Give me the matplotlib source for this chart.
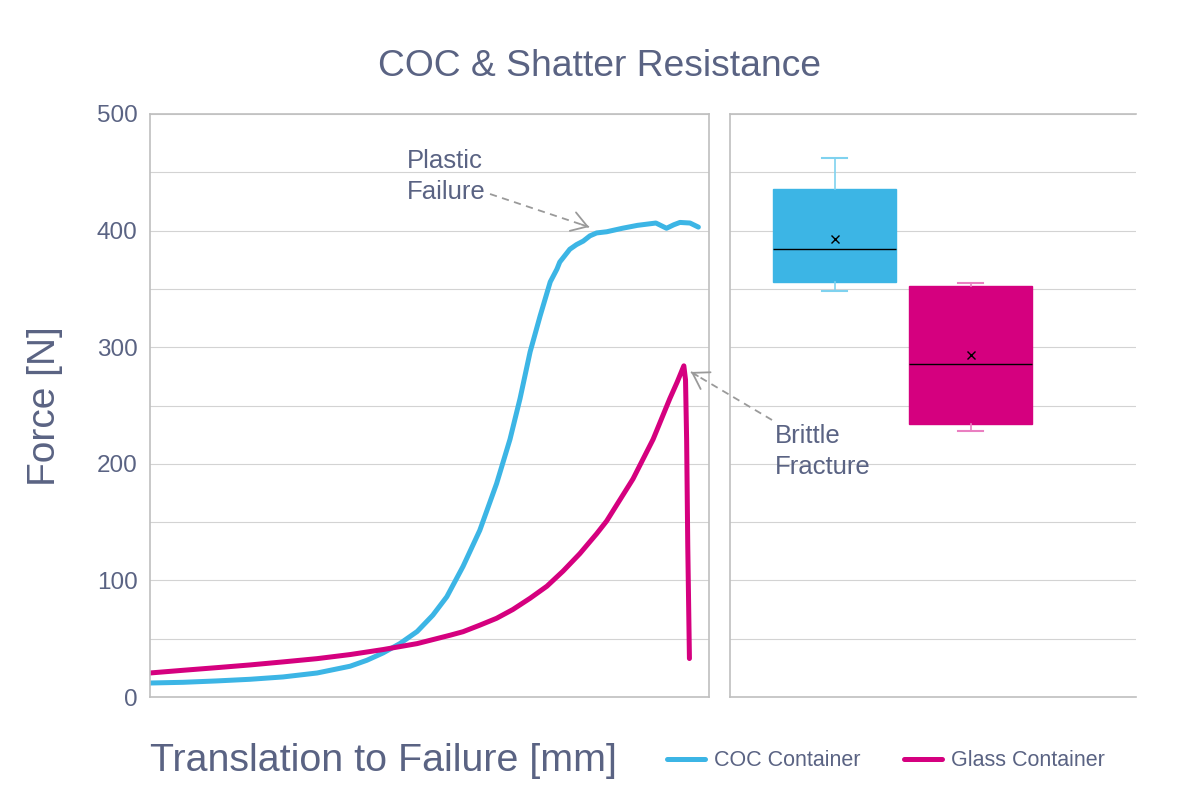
import matplotlib
matplotlib.use("Agg")
import matplotlib.pyplot as plt
from matplotlib.lines import Line2D
from matplotlib.patches import FancyArrowPatch

plt.rcParams['font.family'] = ['Liberation Sans', 'DejaVu Sans']

# curves (x in mm, arbitrary scale 0..10)
coc_x = [0.00, 0.59, 1.20, 1.79, 2.38, 2.99, 3.58, 3.88, 4.17, 4.47, 4.78, 5.06,
         5.31, 5.60, 5.90, 6.20, 6.44, 6.62, 6.80, 6.98, 7.16, 7.28, 7.33, 7.51,
         7.63, 7.75, 7.87, 7.99, 8.17, 8.45, 8.72, 9.05, 9.24, 9.37, 9.48, 9.66, 9.81]
coc_f = [12.0, 12.6, 13.8, 15.2, 17.2, 20.6, 26.4, 31.5, 37.8, 45.8, 56.2, 70.2,
         86, 112, 143, 183, 221, 256, 296, 327, 356, 367, 373, 384,
         388, 391, 395.5, 398, 399, 402, 404.5, 406.5, 402, 405, 407, 406.5, 403]

glass_x = [0.00, 0.59, 1.20, 1.79, 2.38, 2.99, 3.58, 4.17, 4.78, 5.37, 5.60, 5.90,
           6.20, 6.49, 6.80, 7.10, 7.39, 7.69, 7.99, 8.17, 8.64, 9.00, 9.30, 9.43,
           9.55, 9.58, 9.60, 9.62, 9.65]
glass_f = [20.6, 22.9, 25.2, 27.5, 30.1, 32.9, 36.4, 40.7, 45.8, 53.0, 56, 61.6,
           67.5, 75, 84.7, 95, 108, 123, 140, 151, 187, 221, 256, 270,
           284, 272, 220, 130, 33]

# box plot stats
box_names = ["COC Container", "Glass Container"]
box_whislo = [348.5, 228.4]
box_q1 = [355.6, 234]
box_med = [384, 285.6]
box_mean = [392.5, 293.6]
box_q3 = [436, 352.7]
box_whishi = [462, 355]

blue = '#3cb5e5'
pink = '#d5007f'
whisker_cols = ['#7fd2ef', '#ea7fc1']
txt = '#5a6383'
spine_col = '#bfbfbf'
grid_col = '#d3d3d3'
arrow_col = '#9a9a9a'

fig = plt.figure(figsize=(12, 8), dpi=100)
W, H = 1200, 800

def fx(px):
    return px / W

def fy(py):
    return 1 - py / H

ax1 = fig.add_axes([fx(150), fy(697), 559 / W, 583 / H])
ax2 = fig.add_axes([fx(730), fy(697), 406 / W, 583 / H])

for ax in (ax1, ax2):
    ax.set_ylim(0, 500)
    ax.set_yticks(range(0, 501, 50))
    ax.grid(axis='y', color=grid_col, lw=0.8)
    ax.set_axisbelow(True)
    ax.tick_params(length=0)
    ax.set_xticks([])
    for s in ax.spines.values():
        s.set_color(spine_col)
        s.set_linewidth(1.2)

ax1.set_yticks(range(0, 501, 100), [str(v) for v in range(0, 501, 100)])
ax1.set_yticks(range(50, 501, 100), minor=True)
ax1.grid(axis='y', which='minor', color=grid_col, lw=0.8)
ax1.tick_params(axis='y', which='both', length=0, pad=9, labelsize=17.5, labelcolor=txt)
ax2.set_yticklabels([])
ax2.spines['right'].set_visible(False)

ax1.set_xlim(0, 10)
l1, = ax1.plot(coc_x, coc_f, color=blue, lw=3.6, solid_capstyle='round',
               solid_joinstyle='round', label=box_names[0])
l2, = ax1.plot(glass_x, glass_f, color=pink, lw=3.6, solid_capstyle='round',
               solid_joinstyle='round', label=box_names[1])

# box plots
stats = []
for i in range(2):
    stats.append(dict(whislo=box_whislo[i], q1=box_q1[i], med=box_med[i],
                      mean=box_mean[i], q3=box_q3[i], whishi=box_whishi[i],
                      fliers=[], label=box_names[i]))
for i, col in enumerate([blue, pink]):
    ax2.bxp([stats[i]], positions=[i + 1], widths=0.902, capwidths=0.184,
            patch_artist=True, showmeans=True,
            boxprops=dict(facecolor=col, edgecolor=col, lw=1),
            whiskerprops=dict(color=whisker_cols[i], lw=1.2),
            capprops=dict(color=whisker_cols[i], lw=1.5),
            medianprops=dict(color='black', lw=1),
            meanprops=dict(marker='x', markeredgecolor='black', markersize=6,
                           markeredgewidth=1))
ax2.set_xlim(0.231, 3.214)
ax2.set_xticks([])

# title and labels
fig.text(0.5, fy(76), "COC & Shatter Resistance", ha='center', va='baseline',
         fontsize=26.8, color=txt)
fig.text(fx(150), fy(771), "Translation to Failure [mm]", ha='left', va='baseline',
         fontsize=28.4, color=txt)
fig.text(fx(45), fy(406), "Force [N]", ha='center', va='center', rotation=90,
         fontsize=28, color=txt)

# annotations
fig.text(fx(407), fy(168), "Plastic", ha='left', va='baseline', fontsize=18.5, color=txt)
fig.text(fx(407), fy(199), "Failure", ha='left', va='baseline', fontsize=18.5, color=txt)
fig.text(fx(775), fy(443), "Brittle", ha='left', va='baseline', fontsize=18.5, color=txt)
fig.text(fx(775), fy(474), "Fracture", ha='left', va='baseline', fontsize=18.5, color=txt)


def dashed_arrow(tail, head):
    # dashed shaft, solid open head
    fig.add_artist(Line2D([fx(tail[0]), fx(head[0])], [fy(tail[1]), fy(head[1])],
                          transform=fig.transFigure, color=arrow_col, lw=1.3,
                          linestyle=(0, (4, 3))))
    dx, dy = head[0] - tail[0], head[1] - tail[1]
    n = (dx ** 2 + dy ** 2) ** 0.5
    back = (head[0] - dx / n * 8, head[1] - dy / n * 8)
    fig.add_artist(FancyArrowPatch((fx(back[0]), fy(back[1])), (fx(head[0]), fy(head[1])),
                                   transform=fig.transFigure, color=arrow_col, lw=1.3,
                                   arrowstyle='->, head_length=0.55, head_width=0.35',
                                   mutation_scale=20, shrinkA=0, shrinkB=0))


dashed_arrow((490, 194), (589, 227))
dashed_arrow((772, 420), (691, 372))

fig.legend(handles=[l1, l2], loc='center', bbox_to_anchor=(fx(886), fy(761)),
           ncol=2, frameon=False, fontsize=15.5, labelcolor=txt, handlelength=1.75,
           handletextpad=0.45, columnspacing=2.0, borderpad=0)

fig.savefig("out.png", dpi=100)
